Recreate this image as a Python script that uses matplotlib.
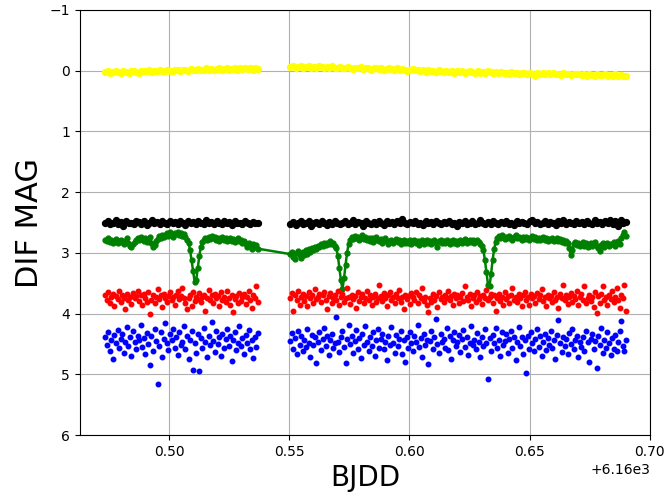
import numpy as np
import matplotlib
matplotlib.use('Agg')
import matplotlib.pyplot as plt

# Observation windows (BJDD), the light curves are evenly sampled inside them
seg1_start, seg1_end = 6160.4735, 6160.5370
seg2_start, seg2_end = 6160.5505, 6160.6900

# Differential magnitudes, one list per colour and window
yellow_1 = [0.02, 0.01, 0.03, 0.02, 0.00, 0.02, 0.04, 0.01, 0.02, 0.03,
            0.01, 0.00, 0.02, 0.03, 0.01, 0.00, 0.01, -0.01, 0.02, 0.00,
            0.01, -0.01, 0.00, 0.01, -0.02, 0.00, 0.01, -0.01, -0.02, 0.00,
            -0.01, -0.02, 0.00, -0.03, -0.01, -0.02, -0.03, -0.01, -0.02, -0.04,
            -0.02, -0.03, -0.01, -0.03, -0.04, -0.02, -0.03, -0.05, -0.02, -0.03,
            -0.04, -0.02, -0.04, -0.03, -0.05, -0.03, -0.04, -0.02, -0.04, -0.03]
yellow_2 = [-0.06, -0.07, -0.05, -0.06, -0.08, -0.05, -0.06, -0.07, -0.05, -0.06,
            -0.05, -0.07, -0.06, -0.04, -0.06, -0.05, -0.07, -0.05, -0.04, -0.06,
            -0.05, -0.04, -0.06, -0.05, -0.03, -0.05, -0.04, -0.06, -0.03, -0.05,
            -0.04, -0.02, -0.04, -0.05, -0.03, -0.04, -0.02, -0.03, -0.05, -0.03,
            -0.02, -0.04, -0.01, -0.03, -0.02, 0.00, -0.02, -0.03, -0.01, -0.02,
            0.00, -0.01, 0.02, -0.01, 0.01, 0.00, 0.02, -0.01, 0.01, 0.02,
            0.00, 0.02, 0.01, 0.03, 0.00, 0.02, 0.01, 0.03, 0.02, 0.00,
            0.02, 0.03, 0.01, 0.04, 0.02, 0.03, 0.01, 0.02, 0.04, 0.02,
            0.03, 0.02, 0.04, 0.03, 0.05, 0.02, 0.04, 0.03, 0.05, 0.03,
            0.04, 0.06, 0.03, 0.05, 0.09, 0.04, 0.05, 0.03, 0.06, 0.04,
            0.05, 0.04, 0.06, 0.05, 0.07, 0.04, 0.06, 0.05, 0.07, 0.05,
            0.06, 0.05, 0.07, 0.06, 0.08, 0.05, 0.07, 0.09, 0.06, 0.07,
            0.07, 0.06, 0.08, 0.07, 0.09, 0.06, 0.08, 0.07, 0.09, 0.08]

black_1 = [2.51, 2.48, 2.53, 2.50, 2.46, 2.52, 2.49, 2.55, 2.47, 2.51,
           2.50, 2.53, 2.47, 2.49, 2.52, 2.48, 2.54, 2.50, 2.46, 2.51,
           2.49, 2.52, 2.48, 2.50, 2.53, 2.47, 2.51, 2.49, 2.52, 2.48,
           2.50, 2.54, 2.47, 2.51, 2.49, 2.53, 2.48, 2.50, 2.52, 2.46,
           2.51, 2.49, 2.53, 2.48, 2.50, 2.52, 2.47, 2.51, 2.49, 2.54,
           2.48, 2.51, 2.50, 2.53, 2.47, 2.50, 2.52, 2.49, 2.51, 2.50]
black_2 = [2.52, 2.49, 2.54, 2.50, 2.47, 2.53, 2.51, 2.48, 2.55, 2.50,
           2.49, 2.52, 2.47, 2.51, 2.54, 2.49, 2.52, 2.48, 2.50, 2.53,
           2.51, 2.48, 2.52, 2.50, 2.46, 2.53, 2.49, 2.51, 2.55, 2.48,
           2.50, 2.53, 2.49, 2.52, 2.47, 2.50, 2.54, 2.48, 2.51, 2.49,
           2.52, 2.48, 2.51, 2.44, 2.50, 2.53, 2.49, 2.51, 2.47, 2.52,
           2.50, 2.54, 2.48, 2.51, 2.49, 2.52, 2.47, 2.50, 2.53, 2.49,
           2.51, 2.48, 2.52, 2.50, 2.55, 2.49, 2.51, 2.47, 2.53, 2.50,
           2.48, 2.52, 2.50, 2.46, 2.51, 2.53, 2.49, 2.52, 2.48, 2.50,
           2.53, 2.49, 2.51, 2.47, 2.52, 2.50, 2.54, 2.48, 2.51, 2.49,
           2.50, 2.52, 2.48, 2.45, 2.51, 2.49, 2.53, 2.50, 2.47, 2.52,
           2.49, 2.51, 2.54, 2.48, 2.50, 2.46, 2.52, 2.49, 2.51, 2.53,
           2.48, 2.51, 2.49, 2.53, 2.47, 2.50, 2.52, 2.46, 2.51, 2.49,
           2.53, 2.47, 2.50, 2.45, 2.52, 2.48, 2.55, 2.46, 2.51, 2.49]

green_1 = [2.78, 2.80, 2.76, 2.82, 2.79, 2.84, 2.81, 2.77, 2.83, 2.80,
           2.78, 2.82, 2.85, 2.80, 2.76, 2.83, 2.88, 2.90, 2.86, 2.82,
           2.79, 2.75, 2.78, 2.73, 2.77, 2.80, 2.76, 2.82, 2.79, 2.74,
           2.84, 2.90, 2.87, 2.81, 2.77, 2.72, 2.75, 2.70, 2.74, 2.71,
           2.68, 2.72, 2.66, 2.70, 2.73, 2.67, 2.69, 2.65, 2.71, 2.68,
           2.72, 2.69, 2.74, 2.78, 2.84, 2.95, 3.12, 3.30, 3.48, 3.45,
           3.25, 3.05, 2.90, 2.82, 2.78, 2.75, 2.79, 2.74, 2.77, 2.72,
           2.76, 2.73, 2.78, 2.75, 2.80, 2.77, 2.74, 2.79, 2.76, 2.81,
           2.78, 2.75, 2.80, 2.77, 2.82, 2.79, 2.76, 2.81, 2.78, 2.84,
           2.80, 2.86, 2.90, 2.83, 2.88, 2.93, 2.85, 2.91, 2.87, 2.93]
green_2 = [3.02, 2.98, 3.06, 3.10, 3.00, 2.97, 3.04, 3.08, 2.99, 3.03,
           2.96, 3.01, 2.94, 2.98, 2.92, 2.95, 2.90, 2.93, 2.88, 2.91,
           2.86, 2.89, 2.84, 2.87, 2.83, 2.85, 2.81, 2.86, 2.84, 2.88,
           2.92, 3.05, 3.25, 3.45, 3.60, 3.42, 3.20, 3.00, 2.85, 2.78,
           2.74, 2.77, 2.72, 2.76, 2.73, 2.79, 2.75, 2.71, 2.77, 2.74,
           2.78, 2.75, 2.80, 2.76, 2.82, 2.78, 2.74, 2.79, 2.81, 2.77,
           2.83, 2.79, 2.76, 2.81, 2.85, 2.80, 2.78, 2.84, 2.80, 2.77,
           2.82, 2.79, 2.85, 2.81, 2.78, 2.84, 2.80, 2.83, 2.79, 2.86,
           2.81, 2.78, 2.84, 2.80, 2.87, 2.82, 2.79, 2.85, 2.81, 2.78,
           2.83, 2.80, 2.86, 2.82, 2.79, 2.84, 2.90, 2.81, 2.78, 2.83,
           2.80, 2.84, 2.79, 2.82, 2.86, 2.81, 2.78, 2.83, 2.80, 2.85,
           2.82, 2.79, 2.84, 2.81, 2.77, 2.83, 2.80, 2.78, 2.82, 2.79,
           2.83, 2.80, 2.78, 2.82, 2.85, 2.88, 2.96, 3.12, 3.32, 3.52,
           3.55, 3.35, 3.12, 2.94, 2.82, 2.76, 2.72, 2.75, 2.71, 2.74,
           2.77, 2.73, 2.76, 2.72, 2.75, 2.78, 2.74, 2.71, 2.76, 2.73,
           2.75, 2.78, 2.74, 2.77, 2.73, 2.76, 2.79, 2.75, 2.72, 2.77,
           2.74, 2.78, 2.75, 2.79, 2.76, 2.73, 2.78, 2.75, 2.80, 2.77,
           2.79, 2.76, 2.81, 2.78, 2.75, 2.80, 2.77, 2.82, 2.79, 2.84,
           2.80, 2.84, 2.92, 3.03, 2.95, 2.86, 2.82, 2.87, 2.84, 2.89,
           2.85, 2.82, 2.88, 2.84, 2.91, 2.86, 2.83, 2.89, 2.85, 2.82,
           2.88, 2.92, 2.97, 2.87, 2.84, 2.90, 2.86, 2.83, 2.88, 2.85,
           2.86, 2.82, 2.88, 2.84, 2.80, 2.85, 2.76, 2.70, 2.66, 2.72]

red_1 = [3.70, 3.78, 3.65, 3.82, 3.73, 3.68, 3.88, 3.71, 3.76, 3.63,
         3.80, 3.69, 3.74, 3.92, 3.67, 3.77, 3.72, 3.84, 3.66, 3.75,
         3.71, 3.62, 3.79, 3.70, 3.86, 3.68, 3.74, 3.81, 3.64, 4.00,
         3.77, 3.69, 3.83, 3.72, 3.60, 3.76, 3.70, 3.89, 3.67, 3.74,
         3.80, 3.71, 3.65, 3.78, 3.73, 3.85, 3.69, 3.62, 3.76, 3.71,
         3.58, 3.74, 3.82, 3.92, 3.75, 3.70, 3.87, 3.64, 3.79, 3.72,
         3.76, 3.66, 3.81, 3.73, 3.69, 3.95, 3.74, 3.61, 3.78, 3.70,
         3.83, 3.67, 3.75, 3.71, 3.88, 3.65, 3.77, 3.72, 3.80, 3.63,
         3.74, 3.86, 3.69, 3.98, 3.76, 3.71, 3.82, 3.66, 3.79, 3.73,
         3.68, 3.84, 3.72, 3.62, 3.77, 3.90, 3.70, 3.75, 3.55, 3.81]
red_2 = [3.74, 3.66, 3.96, 3.70, 3.77, 3.63, 3.85, 3.72, 3.68, 3.79,
         3.71, 3.88, 3.65, 3.75, 3.69, 3.82, 3.60, 3.76, 3.73, 3.67,
         3.80, 3.70, 3.64, 3.78, 3.92, 3.71, 3.66, 3.83, 3.74, 3.69,
         3.77, 3.62, 3.86, 3.72, 3.68, 3.80, 3.75, 3.57, 3.73, 3.84,
         3.69, 3.76, 3.71, 3.90, 3.65, 3.79, 3.72, 3.67, 3.82, 3.74,
         3.63, 3.78, 3.70, 3.85, 3.73, 3.68, 3.81, 3.75, 3.52, 3.71,
         3.79, 3.66, 3.74, 3.87, 3.70, 3.64, 3.77, 3.72, 3.83, 3.68,
         3.75, 3.61, 3.80, 3.73, 3.93, 3.69, 3.76, 3.71, 3.84, 3.66,
         3.72, 3.78, 3.65, 3.82, 3.70, 3.75, 3.58, 3.79, 3.73, 3.86,
         3.97, 3.74, 3.80, 3.67, 3.77, 3.71, 3.89, 3.64, 3.76, 3.72,
         3.81, 3.69, 3.74, 3.62, 3.78, 3.71, 3.85, 3.67, 3.75, 3.70,
         3.83, 3.73, 3.66, 3.79, 3.55, 3.72, 3.77, 3.68, 3.88, 3.74,
         3.70, 3.80, 3.65, 3.76, 3.71, 3.84, 3.69, 3.75, 3.61, 3.78,
         3.73, 3.67, 3.82, 3.70, 3.95, 3.74, 3.68, 3.79, 3.72, 3.86,
         3.65, 3.76, 3.71, 3.83, 3.69, 3.57, 3.77, 3.73, 3.80, 3.67,
         3.74, 3.88, 3.70, 3.64, 3.78, 3.72, 3.85, 3.68, 3.75, 3.71,
         3.82, 3.66, 3.76, 3.70, 3.60, 3.79, 3.73, 3.87, 3.69, 3.74,
         3.71, 3.81, 3.64, 3.77, 3.72, 3.90, 3.68, 3.75, 3.53, 3.78,
         3.70, 3.84, 3.73, 3.66, 3.80, 3.71, 3.76, 3.63, 3.86, 3.72,
         3.68, 3.77, 3.55, 3.82, 3.74, 3.69, 3.79, 3.72, 3.89, 3.65,
         3.99, 3.71, 3.83, 3.67, 3.54, 3.78, 3.73, 3.86, 3.70, 3.76,
         3.63, 3.80, 3.72, 3.58, 3.77, 3.91, 3.69, 3.74, 3.52, 3.95]

blue_1 = [4.38, 4.52, 4.30, 4.61, 4.44, 4.75, 4.35, 4.48, 4.27, 4.56,
          4.41, 4.33, 4.64, 4.46, 4.22, 4.53, 4.39, 4.70, 4.29, 4.47,
          4.58, 4.36, 4.43, 4.19, 4.55, 4.40, 4.67, 4.32, 4.50, 4.85,
          4.37, 4.62, 4.26, 4.45, 5.15, 4.54, 4.31, 4.72, 4.42, 4.16,
          4.49, 4.60, 4.34, 4.44, 4.25, 4.57, 4.38, 4.68, 4.30, 4.51,
          4.46, 4.21, 4.59, 4.36, 4.74, 4.43, 4.28, 4.92, 4.48, 4.65,
          4.33, 4.95, 4.40, 4.56, 4.24, 4.47, 4.71, 4.37, 4.52, 4.14,
          4.45, 4.63, 4.29, 4.50, 4.39, 4.69, 4.34, 4.57, 4.42, 4.26,
          4.54, 4.36, 4.78, 4.44, 4.31, 4.60, 4.48, 4.20, 4.53, 4.40,
          4.66, 4.35, 4.49, 4.27, 4.58, 4.43, 4.73, 4.38, 4.55, 4.32]
blue_2 = [4.45, 4.32, 4.58, 4.40, 4.66, 4.28, 4.51, 4.37, 4.62, 4.43,
          4.55, 4.26, 4.48, 4.71, 4.35, 4.52, 4.39, 4.82, 4.46, 4.30,
          4.60, 4.41, 4.24, 4.53, 4.36, 4.68, 4.44, 4.33, 4.57, 4.49,
          4.06, 4.47, 4.63, 4.38, 4.29, 4.55, 4.82, 4.42, 4.18, 4.50,
          4.36, 4.64, 4.45, 4.27, 4.58, 4.40, 4.73, 4.34, 4.52, 4.21,
          4.47, 4.61, 4.38, 4.54, 4.30, 4.69, 4.43, 4.25, 4.56, 4.41,
          4.33, 4.59, 4.46, 4.76, 4.37, 4.51, 4.22, 4.48, 4.64, 4.35,
          4.53, 4.42, 4.28, 4.66, 4.44, 4.80, 4.39, 4.57, 4.31, 4.49,
          4.62, 4.36, 4.47, 4.19, 4.55, 4.40, 4.71, 4.34, 4.52, 4.43,
          4.83, 4.45, 4.29, 4.58, 4.38, 4.08, 4.50, 4.65, 4.33, 4.46,
          4.41, 4.56, 4.24, 4.60, 4.37, 4.74, 4.44, 4.30, 4.53, 4.47,
          4.35, 4.63, 4.42, 4.27, 4.55, 4.39, 4.68, 4.48, 4.20, 4.51,
          4.44, 4.59, 4.32, 4.46, 4.72, 4.38, 4.54, 4.26, 4.49, 5.08,
          4.40, 4.61, 4.35, 4.48, 4.23, 4.57, 4.43, 4.70, 4.31, 4.52,
          4.45, 4.34, 4.64, 4.41, 4.28, 4.56, 4.38, 4.77, 4.47, 4.22,
          4.53, 4.39, 4.66, 4.44, 4.97, 4.36, 4.58, 4.30, 4.49, 4.62,
          4.42, 4.25, 4.55, 4.37, 4.69, 4.46, 4.33, 4.60, 4.40, 4.51,
          4.29, 4.57, 4.43, 4.75, 4.35, 4.10, 4.48, 4.63, 4.38, 4.54,
          4.41, 4.67, 4.32, 4.50, 4.26, 4.59, 4.44, 4.36, 4.71, 4.47,
          4.55, 4.39, 4.62, 4.28, 4.46, 4.80, 4.42, 4.33, 4.58, 4.45,
          4.90, 4.37, 4.52, 4.24, 4.64, 4.43, 4.56, 4.31, 4.49, 4.68,
          4.40, 4.58, 4.35, 4.61, 4.46, 4.29, 4.12, 4.53, 4.62, 4.44]


# Times for each window, evenly spaced over the window
def times(values, start, end):
    return np.linspace(start, end, len(values))


fig = plt.figure(figsize=(6.7, 4.99), dpi=100)
ax = fig.add_axes([0.119, 0.128, 0.851, 0.852])

# Comparison stars, plotted as points
for seg1, seg2, col in [(yellow_1, yellow_2, 'yellow'), (black_1, black_2, 'k')]:
    t = np.concatenate([times(seg1, seg1_start, seg1_end), times(seg2, seg2_start, seg2_end)])
    ax.plot(t, seg1 + seg2, '.', color=col, markersize=8.5)

# Target star, joined with a line (so it bridges the gap)
t_green = np.concatenate([times(green_1, seg1_start, seg1_end), times(green_2, seg2_start, seg2_end)])
ax.plot(t_green, green_1 + green_2, '.-', color='g', markersize=7, linewidth=1.8)

for seg1, seg2, col in [(red_1, red_2, 'r'), (blue_1, blue_2, 'b')]:
    t = np.concatenate([times(seg1, seg1_start, seg1_end), times(seg2, seg2_start, seg2_end)])
    ax.plot(t, seg1 + seg2, '.', color=col, markersize=6.5)

ax.set_xlim(6160.4629, 6160.70)
ax.set_ylim(6, -1)
ax.set_yticks(range(-1, 7))
ax.grid(True)
ax.set_xlabel('BJDD', fontsize=20)
ax.set_ylabel('DIF MAG', fontsize=22)

fig.savefig('out.png', dpi=100)
